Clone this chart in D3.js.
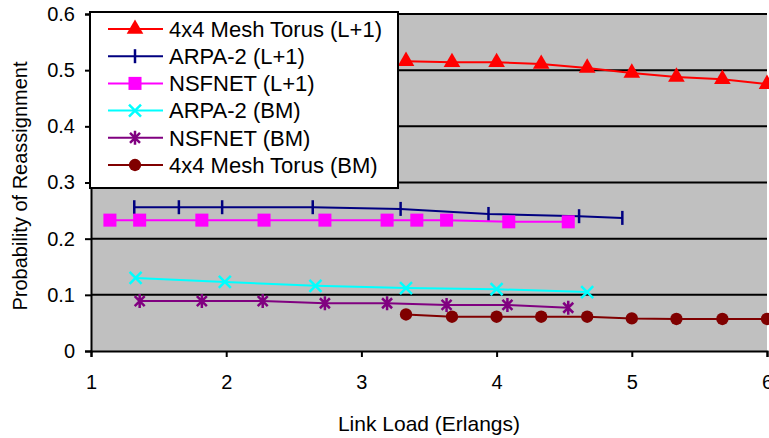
<!DOCTYPE html>
<html>
<head>
<meta charset="utf-8">
<script src="https://cdn.jsdelivr.net/npm/d3@7"></script>
<style>
  body { margin: 0; background: #fff; }
  text { font-family: "Liberation Sans", Arial, sans-serif; fill: #000; }
  .axis path, .axis line { stroke: #000; stroke-width: 2; }
  .axis text { font-size: 20px; }
</style>
</head>
<body>
<svg id="chart" width="769" height="438"></svg>
<script>
// tick values on both axes
const loadTicks = [1, 2, 3, 4, 5, 6];
const probTicks = [0, 0.1, 0.2, 0.3, 0.4, 0.5, 0.6];

// series (link load in Erlangs, probability of reassignment)
const meshL1Load = [3.33, 3.67, 4.0, 4.33, 4.67, 5.0, 5.33, 5.67, 6.0];
const meshL1Prob = [0.516, 0.514, 0.514, 0.511, 0.504, 0.495, 0.488, 0.484, 0.475];

const arpaL1Load = [1.32, 1.65, 1.97, 2.64, 3.29, 3.94, 4.61, 4.93];
const arpaL1Prob = [0.256, 0.256, 0.256, 0.256, 0.253, 0.244, 0.240, 0.237];

const nsfL1Load = [1.14, 1.36, 1.82, 2.28, 2.73, 3.19, 3.41, 3.63, 4.09, 4.53];
const nsfL1Prob = [0.233, 0.233, 0.233, 0.233, 0.233, 0.233, 0.233, 0.233, 0.230, 0.230];

const arpaBMLoad = [1.33, 1.99, 2.66, 3.33, 4.0, 4.67];
const arpaBMProb = [0.130, 0.123, 0.116, 0.112, 0.110, 0.105];

const nsfBMLoad = [1.36, 1.82, 2.27, 2.73, 3.19, 3.63, 4.08, 4.53];
const nsfBMProb = [0.089, 0.089, 0.089, 0.085, 0.085, 0.082, 0.082, 0.077];

const meshBMLoad = [3.33, 3.67, 4.0, 4.33, 4.67, 5.0, 5.33, 5.67, 6.0];
const meshBMProb = [0.065, 0.061, 0.061, 0.061, 0.061, 0.058, 0.057, 0.057, 0.057];

const seriesNames = ['4x4 Mesh Torus (L+1)', 'ARPA-2 (L+1)', 'NSFNET (L+1)',
                     'ARPA-2 (BM)', 'NSFNET (BM)', '4x4 Mesh Torus (BM)'];
const seriesColors = ['#ff0000', '#000080', '#ff00ff', '#00ffff', '#800080', '#800000'];
const seriesMarkers = ['triangle', 'tick', 'square', 'x', 'star', 'circle'];

// build the table the drawing code uses
let series = [
  [meshL1Load, meshL1Prob], [arpaL1Load, arpaL1Prob], [nsfL1Load, nsfL1Prob],
  [arpaBMLoad, arpaBMProb], [nsfBMLoad, nsfBMProb], [meshBMLoad, meshBMProb]
].map(function(p, i) {
  return {
    name: seriesNames[i], color: seriesColors[i], marker: seriesMarkers[i],
    points: p[0].map(function(x, j) { return {x: x, y: p[1][j]}; })
  };
});

let svg = d3.select('#chart');
let margin = {left: 91, right: 2, top: 14, bottom: 87};
let width = 769 - margin.left - margin.right;
let height = 438 - margin.top - margin.bottom;

let x = d3.scaleLinear().domain([1, 6]).range([0, width]);
let y = d3.scaleLinear().domain([0, 0.6]).range([height, 0]);

let g = svg.append('g').attr('transform', 'translate(' + margin.left + ',' + margin.top + ')');

// grey plot area and black gridlines
g.append('rect')
  .attr('width', width).attr('height', height)
  .attr('fill', '#c0c0c0');
g.append('g').selectAll('line')
  .data(probTicks.slice(1))
  .enter().append('line')
  .attr('x1', 0).attr('x2', width)
  .attr('y1', function(d) { return y(d); }).attr('y2', function(d) { return y(d); })
  .attr('stroke', '#000').attr('stroke-width', 2);

// axes
g.append('g').attr('class', 'axis')
  .attr('transform', 'translate(0,' + height + ')')
  .call(d3.axisBottom(x).tickValues(loadTicks).tickFormat(d3.format('d')).tickSizeOuter(0).tickSize(6).tickPadding(18));
g.append('g').attr('class', 'axis')
  .call(d3.axisLeft(y).tickValues(probTicks).tickFormat(function(d) { return d === 0 ? '0' : d3.format('.1f')(d); })
    .tickSizeOuter(0).tickSize(6).tickPadding(10));
g.selectAll('.axis .domain').attr('stroke-width', 3);

// marker generator: returns a path string for the given marker kind
function markerPath(kind) {
  switch (kind) {
    case 'triangle': return d3.symbol(d3.symbolTriangle, 120)();
    case 'square': return d3.symbol(d3.symbolSquare, 170)();
    case 'circle': return d3.symbol(d3.symbolCircle, 120)();
    case 'tick': return 'M0,-7V7';
    case 'x': return 'M-6,-6L6,6M-6,6L6,-6';
    case 'star': return 'M-5,-5L5,5M-5,5L5,-5M0,-7V7';
  }
}
function isFilled(kind) {
  return kind === 'triangle' || kind === 'square' || kind === 'circle';
}

let line = d3.line()
  .x(function(d) { return x(d.x); })
  .y(function(d) { return y(d.y); });

// lines and markers
let groups = g.append('g').selectAll('.series')
  .data(series)
  .enter().append('g')
  .attr('class', 'series');

groups.append('path')
  .attr('d', function(d) { return line(d.points); })
  .attr('fill', 'none')
  .attr('stroke', function(d) { return d.color; })
  .attr('stroke-width', 2);

groups.each(function(s) {
  d3.select(this).selectAll('.marker')
    .data(s.points)
    .enter().append('path')
    .attr('class', 'marker')
    .attr('transform', function(d) { return 'translate(' + x(d.x) + ',' + y(d.y) + ')'; })
    .attr('d', markerPath(s.marker))
    .attr('fill', isFilled(s.marker) ? s.color : 'none')
    .attr('stroke', s.color)
    .attr('stroke-width', isFilled(s.marker) ? 0 : 2.5);
});

// axis titles
svg.append('text')
  .attr('x', 429).attr('y', 431)
  .attr('text-anchor', 'middle')
  .style('font-size', '21px')
  .text('Link Load (Erlangs)');
svg.append('text')
  .attr('transform', 'translate(27,186) rotate(-90)')
  .attr('text-anchor', 'middle')
  .style('font-size', '20px')
  .text('Probability of Reassignment');

// legend box drawn over the top-left of the plot
let legend = svg.append('g').attr('transform', 'translate(90,12)');
legend.append('rect')
  .attr('width', 308).attr('height', 176)
  .attr('fill', '#fff').attr('stroke', '#000').attr('stroke-width', 2);
let rows = legend.selectAll('.row')
  .data(series)
  .enter().append('g')
  .attr('class', 'row')
  .attr('transform', function(d, i) { return 'translate(0,' + (17 + i * 27.2) + ')'; });
rows.append('line')
  .attr('x1', 18).attr('x2', 73)
  .attr('stroke', function(d) { return d.color; })
  .attr('stroke-width', 2);
rows.append('path')
  .attr('transform', 'translate(45,0)')
  .attr('d', function(d) { return markerPath(d.marker); })
  .attr('fill', function(d) { return isFilled(d.marker) ? d.color : 'none'; })
  .attr('stroke', function(d) { return d.color; })
  .attr('stroke-width', function(d) { return isFilled(d.marker) ? 0 : 2.5; });
rows.append('text')
  .attr('x', 79).attr('dy', '0.35em')
  .style('font-size', '22px')
  .text(function(d) { return d.name; });
</script>
</body>
</html>
